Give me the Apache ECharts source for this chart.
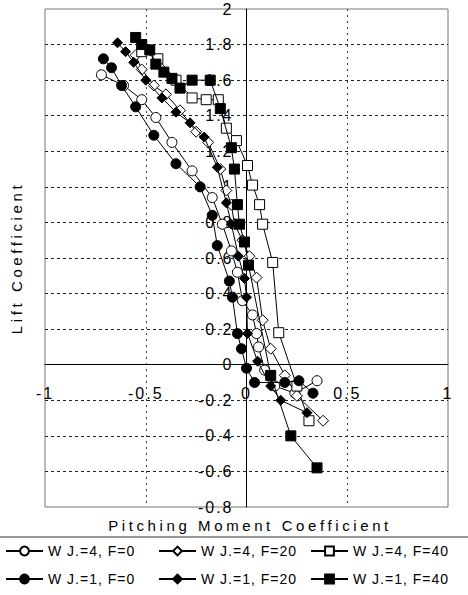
<!DOCTYPE html>
<html><head><meta charset="utf-8">
<script src="https://cdn.jsdelivr.net/npm/echarts@6/dist/echarts.min.js"></script>
<style>
html,body{margin:0;padding:0;background:#fff}
#c{width:468px;height:595px}
#c text{letter-spacing:1px}
#c text[style*="16px"]{letter-spacing:2px}
#c text[style*="15px"]{letter-spacing:3.6px}
</style></head><body><div id="c"></div>
<script>
// ---- data (Pitching Moment Coefficient, Lift Coefficient) ----
const seriesNames = ['W J.=4, F=0', 'W J.=4, F=20', 'W J.=4, F=40', 'W J.=1, F=0', 'W J.=1, F=20', 'W J.=1, F=40'];

const wj4f0 = [[-0.72,1.63],[-0.61,1.57],[-0.52,1.49],[-0.45,1.39],[-0.37,1.25],[-0.27,1.09],[-0.17,0.94],[-0.12,0.79],[-0.075,0.64],[-0.045,0.52],[-0.02,0.36],[0.03,0.28],[0.05,0.175],[0.06,0.10],[0.09,-0.03],[0.14,-0.12],[0.24,-0.16],[0.35,-0.09]];
const wj4f20 = [[-0.55,1.74],[-0.52,1.66],[-0.46,1.57],[-0.40,1.52],[-0.33,1.43],[-0.25,1.31],[-0.19,1.25],[-0.13,1.10],[-0.10,0.98],[-0.075,0.90],[-0.06,0.79],[-0.02,0.70],[0.015,0.61],[0.05,0.49],[0.08,0.25],[0.12,0.09],[0.19,-0.06],[0.25,-0.175],[0.38,-0.315]];
const wj4f40 = [[-0.52,1.76],[-0.44,1.72],[-0.35,1.60],[-0.27,1.50],[-0.20,1.49],[-0.14,1.49],[-0.10,1.33],[-0.05,1.26],[0.005,1.12],[0.03,1.01],[0.065,0.90],[0.08,0.79],[0.13,0.575],[0.16,0.18],[0.25,-0.12],[0.31,-0.315]];
const wj1f0 = [[-0.71,1.72],[-0.67,1.67],[-0.62,1.57],[-0.55,1.45],[-0.46,1.29],[-0.35,1.13],[-0.23,1.00],[-0.17,0.84],[-0.145,0.67],[-0.085,0.47],[-0.07,0.38],[-0.045,0.175],[-0.025,0.09],[0.0,-0.02],[0.04,-0.10],[0.19,-0.10],[0.26,-0.09],[0.33,-0.16]];
const wj1f20 = [[-0.64,1.81],[-0.60,1.76],[-0.56,1.70],[-0.50,1.60],[-0.42,1.50],[-0.35,1.42],[-0.28,1.36],[-0.21,1.28],[-0.145,1.11],[-0.10,0.91],[-0.075,0.79],[-0.04,0.61],[-0.01,0.485],[0.0,0.38],[0.005,0.175],[0.055,0.02],[0.12,-0.12],[0.17,-0.20],[0.30,-0.27]];
const wj1f40 = [[-0.55,1.84],[-0.52,1.80],[-0.48,1.77],[-0.45,1.69],[-0.41,1.645],[-0.37,1.61],[-0.33,1.555],[-0.27,1.60],[-0.18,1.60],[-0.13,1.44],[-0.075,1.22],[-0.06,1.10],[-0.045,0.90],[-0.035,0.79],[-0.01,0.69],[0.01,0.56],[0.12,-0.06],[0.22,-0.40],[0.35,-0.58]];

const xTickValues = [-1, -0.5, 0, 0.5, 1];
const xTickLabels = ['-1', '-0.5', '0', '0.5', '1'];
const yTickValues = [-0.8, -0.6, -0.4, -0.2, 0, 0.2, 0.4, 0.6, 0.8, 1, 1.2, 1.4, 1.6, 1.8, 2];
const yTickLabels = ['-0.8', '-0.6', '-0.4', '-0.2', '0', '0.2', '0.4', '0.6', '0.8', '1', '1.2', '1.4', '1.6', '1.8', '2'];
const xTitle = 'Pitching Moment Coefficient';
const yTitle = 'Lift Coefficient';

// ---- chart ----
const FONT = 'Liberation Sans, Arial, sans-serif';
const GRID = { left: 45, right: 20, top: 9, bottom: 88 };
const W = 468, H = 595;
function pick(vals, labels, v) {
  let bi = 0;
  for (let i = 0; i < vals.length; i++) if (Math.abs(vals[i] - v) < Math.abs(vals[bi] - v)) bi = i;
  return labels[bi];
}
const openStyle = { color: '#fff', borderColor: '#000', borderWidth: 1 };
const fillStyle = { color: '#000', borderColor: '#000', borderWidth: 1 };
function mk(name, data, symbol, size, filled) {
  return {
    type: 'line', name, data, symbol, symbolSize: size, showAllSymbol: true,
    lineStyle: { color: '#000', width: 1 },
    itemStyle: filled ? fillStyle : openStyle,
    emphasis: { disabled: true }, animation: false, z: filled ? 3 : 2
  };
}
const colLeft = [5, 158, 310];
const rowTop = [544, 572];
const legends = seriesNames.map((n, i) => ({
  data: [n], left: colLeft[i % 3], top: rowTop[Math.floor(i / 3)], padding: 0,
  itemWidth: 37, itemHeight: 11, selectedMode: false,
  textStyle: { fontSize: 14, fontFamily: FONT, color: '#000' }
}));

const chart = echarts.init(document.getElementById('c'), null, { renderer: 'svg' });
chart.setOption({
  backgroundColor: '#fff',
  animation: false,
  grid: Object.assign({ show: true, borderColor: '#777', borderWidth: 1, backgroundColor: 'transparent' }, GRID),
  xAxis: {
    type: 'value', min: -1, max: 1, interval: 0.5, position: 'bottom', offset: 0,
    axisLine: { onZero: false, lineStyle: { color: '#000', width: 1 } },
    axisTick: { show: false },
    axisLabel: { margin: 21, color: '#000', fontSize: 16, fontFamily: FONT, formatter: v => pick(xTickValues, xTickLabels, v) },
    splitLine: { show: true, showMinLine: false, showMaxLine: false, lineStyle: { color: '#444', type: [2, 4], width: 1 } }
  },
  yAxis: {
    type: 'value', min: -0.8, max: 2, interval: 0.2, position: 'left', offset: 0,
    axisLine: { onZero: false, lineStyle: { color: '#000', width: 1 } },
    axisTick: { show: false },
    axisLabel: { margin: 13, color: '#000', fontSize: 16, fontFamily: FONT, formatter: v => pick(yTickValues, yTickLabels, v) },
    splitLine: { show: true, showMinLine: false, showMaxLine: false, lineStyle: { color: '#222', type: [3, 3], width: 1 } }
  },
  legend: legends,
  graphic: [
    { type: 'text', x: 16, y: 258, rotation: Math.PI / 2, silent: true,
      style: { text: yTitle, fontSize: 15, fontFamily: FONT, fill: '#000', textAlign: 'center', textVerticalAlign: 'middle', align: 'center', verticalAlign: 'middle' } },
    { type: 'text', x: 250, y: 525, silent: true,
      style: { text: xTitle, fontSize: 15, fontFamily: FONT, fill: '#000', textAlign: 'center', textVerticalAlign: 'middle', align: 'center', verticalAlign: 'middle' } },
    { type: 'line', silent: true, shape: { x1: 0, y1: 537, x2: W, y2: 537 }, style: { stroke: '#333', lineWidth: 1 } }
  ],
  series: [
    mk(seriesNames[0], wj4f0, 'circle', 10, false),
    mk(seriesNames[1], wj4f20, 'diamond', 11, false),
    mk(seriesNames[2], wj4f40, 'rect', 10, false),
    mk(seriesNames[3], wj1f0, 'circle', 10, true),
    mk(seriesNames[4], wj1f20, 'diamond', 10, true),
    mk(seriesNames[5], wj1f40, 'rect', 10, true)
  ]
});
// Move both axes (line + labels) so that they cross at the data origin.
const origin = chart.convertToPixel({ gridIndex: 0 }, [0, 0]);
chart.setOption({
  xAxis: { offset: origin[1] - (H - GRID.bottom) },
  yAxis: { offset: GRID.left - origin[0] }
});
</script></body></html>
